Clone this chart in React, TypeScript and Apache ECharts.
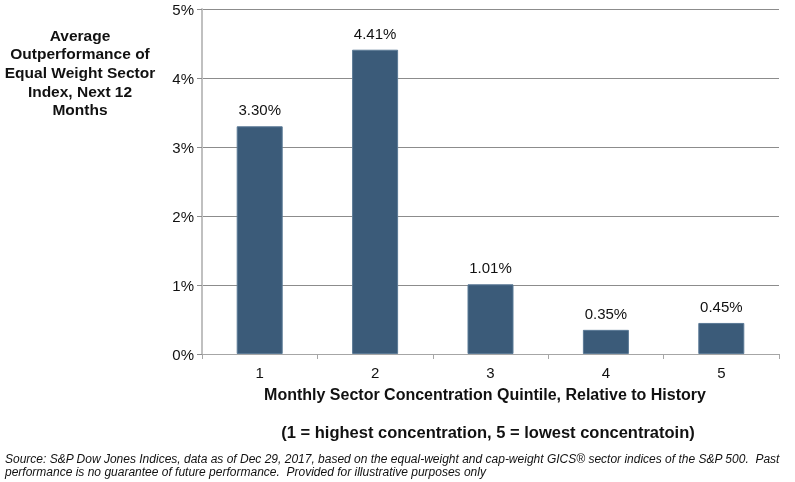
import React, { useEffect, useRef } from "react";
import * as echarts from "echarts";

const categories = ["1", "2", "3", "4", "5"];
const values = [3.30, 4.41, 1.01, 0.35, 0.45];
const yTicks = [0, 1, 2, 3, 4, 5];
const titleLines = ["Average", "Outperformance of", "Equal Weight Sector", "Index, Next 12", "Months"];
const xAxisName = "Monthly Sector Concentration Quintile, Relative to History";
const subtitle = "(1 = highest concentration, 5 = lowest concentratoin)";
const footnote = [
  "Source: S&P Dow Jones Indices, data as of Dec 29, 2017, based on the equal-weight and cap-weight GICS® sector indices of the S&P 500.  Past",
  "performance is no guarantee of future performance.  Provided for illustrative purposes only",
];

export default function App() {
  const ref = useRef<HTMLDivElement>(null);
  useEffect(() => {
    document.body.style.margin = "0";
    const chart = echarts.init(ref.current!, undefined, { renderer: "svg" });
    const font = "Arial, 'Liberation Sans', sans-serif";
    chart.setOption({
      animation: false,
      textStyle: { fontFamily: font },
      grid: { left: 202, top: 9, right: 16, bottom: 128, containLabel: false },
      xAxis: {
        type: "category",
        data: categories,
        axisLine: { lineStyle: { color: "#a6a6a6", width: 1 } },
        axisTick: { show: true, length: 5, lineStyle: { color: "#a6a6a6" } },
        axisLabel: { color: "#111", fontSize: 15, margin: 11, fontFamily: font },
      },
      yAxis: {
        type: "value",
        min: yTicks[0],
        max: yTicks[yTicks.length - 1],
        interval: 1,
        axisLine: { show: true, lineStyle: { color: "#c0c0c0", width: 2 } },
        axisTick: { show: true, length: 5, lineStyle: { color: "#8c8c8c" } },
        splitLine: { lineStyle: { color: "#8c8c8c", width: 1 } },
        axisLabel: { color: "#111", fontSize: 15, margin: 8, formatter: "{value}%", fontFamily: font },
      },
      series: [
        {
          type: "bar",
          data: values,
          barWidth: 46,
          itemStyle: { color: "#3b5b79", borderColor: "#5b7a96", borderWidth: 1 },
          label: {
            show: true,
            position: "top",
            distance: 9,
            fontSize: 15,
            color: "#111",
            fontFamily: font,
            formatter: (p: any) => p.value.toFixed(2) + "%",
          },
        },
      ],
      graphic: [
        ...titleLines.map((t, i) => ({
          type: "text",
          x: 80,
          y: 35 + i * 18.7,
          style: {
            text: t,
            textAlign: "center",
            textVerticalAlign: "middle",
            font: `bold 15.5px ${font}`,
            fill: "#111",
          },
        })),
        {
          type: "text",
          x: 485,
          y: 394,
          style: { text: xAxisName, textAlign: "center", textVerticalAlign: "middle", font: `bold 16px ${font}`, fill: "#111" },
        },
        {
          type: "text",
          x: 488,
          y: 432,
          style: { text: subtitle, textAlign: "center", textVerticalAlign: "middle", font: `bold 16.5px ${font}`, fill: "#111" },
        },
        ...footnote.map((t, i) => ({
          type: "text",
          x: 5,
          y: 459 + i * 13,
          style: {
            text: t,
            textAlign: "left",
            textVerticalAlign: "middle",
            font: `italic 12px 'Liberation Sans Narrow', 'Arial Narrow', sans-serif`,
            fill: "#111",
          },
        })),
      ],
    });
    return () => chart.dispose();
  }, []);
  return <div ref={ref} style={{ position: "fixed", left: 0, top: 0, width: 795, height: 482 }} />;
}
